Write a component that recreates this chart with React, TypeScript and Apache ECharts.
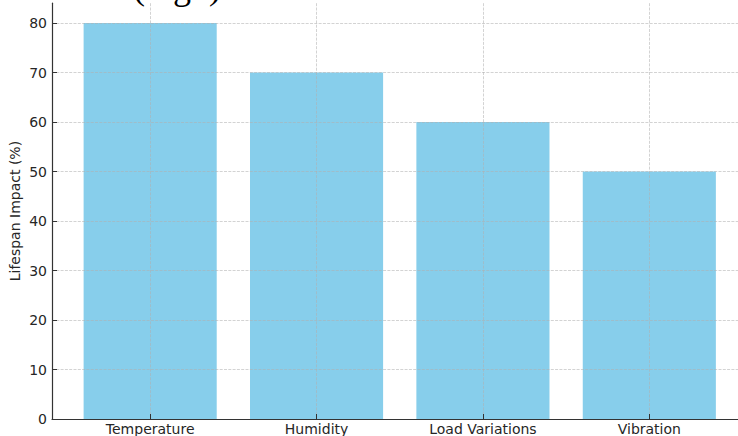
import React, { useEffect, useRef } from "react";
import * as echarts from "echarts";

// Factors and their effect on lifespan
const categories = ["Temperature", "Humidity", "Load Variations", "Vibration"];
const impactPct = [80, 70, 60, 50];
const yTickValues = [0, 10, 20, 30, 40, 50, 60, 70, 80];
const xTickValues = [0, 1, 2, 3];
const headingText = "(high)";

// Visible data window of the plot area
const X_MIN = -0.59;
const X_MAX = 3.533;
const Y_MAX = 84;

const GRID_LEFT = 52;
const GRID_TOP = 3.2;
const GRID_WIDTH = 686;
const GRID_HEIGHT = 415.8;

const FONT = '"DejaVu Sans", sans-serif';
const gridLine = {
  show: true,
  lineStyle: { color: "#b0b0b0", opacity: 0.7, width: 0.8, type: [3, 1.3] as number[] },
};

export default function App() {
  const ref = useRef<HTMLDivElement>(null);

  useEffect(() => {
    if (!ref.current) return;
    const chart = echarts.init(ref.current, undefined, { renderer: "svg" });
    const unitPx = GRID_WIDTH / (X_MAX - X_MIN);

    chart.setOption({
      animation: false,
      backgroundColor: "#ffffff",
      textStyle: { fontFamily: FONT },
      grid: {
        left: GRID_LEFT,
        top: GRID_TOP,
        width: GRID_WIDTH,
        height: GRID_HEIGHT,
        containLabel: false,
        outerBoundsMode: "none",
      },
      xAxis: {
        type: "value",
        min: X_MIN,
        max: X_MAX,
        z: 5,
        axisLine: { show: true, onZero: false, lineStyle: { color: "#333333", width: 1.2 } },
        axisTick: { show: true, inside: true, length: 5, customValues: xTickValues, lineStyle: { color: "#333333" } },
        axisLabel: {
          customValues: xTickValues,
          formatter: (v: number) => categories[Math.round(v)] ?? "",
          color: "#262626",
          fontSize: 14,
          fontFamily: FONT,
          margin: 3,
        },
        splitLine: gridLine,
      },
      yAxis: {
        type: "value",
        min: 0,
        max: Y_MAX,
        z: 5,
        name: "Lifespan Impact (%)",
        nameLocation: "middle",
        nameGap: 30,
        nameMoveOverlap: false,
        nameTextStyle: { color: "#262626", fontSize: 14, fontFamily: FONT },
        axisLine: { show: true, onZero: false, lineStyle: { color: "#333333", width: 1.2 } },
        axisTick: { show: true, inside: true, length: 5, customValues: yTickValues, lineStyle: { color: "#333333" } },
        axisLabel: {
          customValues: yTickValues,
          color: "#262626",
          fontSize: 14,
          fontFamily: FONT,
          margin: 5,
        },
        splitLine: gridLine,
      },
      series: [
        {
          type: "bar",
          z: 2,
          barWidth: 0.8 * unitPx,
          itemStyle: { color: "#87ceeb" },
          data: impactPct.map((v, i) => [i, v]),
        },
      ],
      graphic: [
        {
          type: "text",
          x: 133,
          y: 5,
          style: {
            text: headingText,
            font: '36px "Liberation Serif", "Times New Roman", serif',
            fill: "#000000",
            verticalAlign: "bottom",
          },
        },
      ],
    });

    return () => chart.dispose();
  }, []);

  return (
    <div
      ref={ref}
      style={{ position: "fixed", left: 0, top: 0, width: 738, height: 436 }}
    />
  );
}
